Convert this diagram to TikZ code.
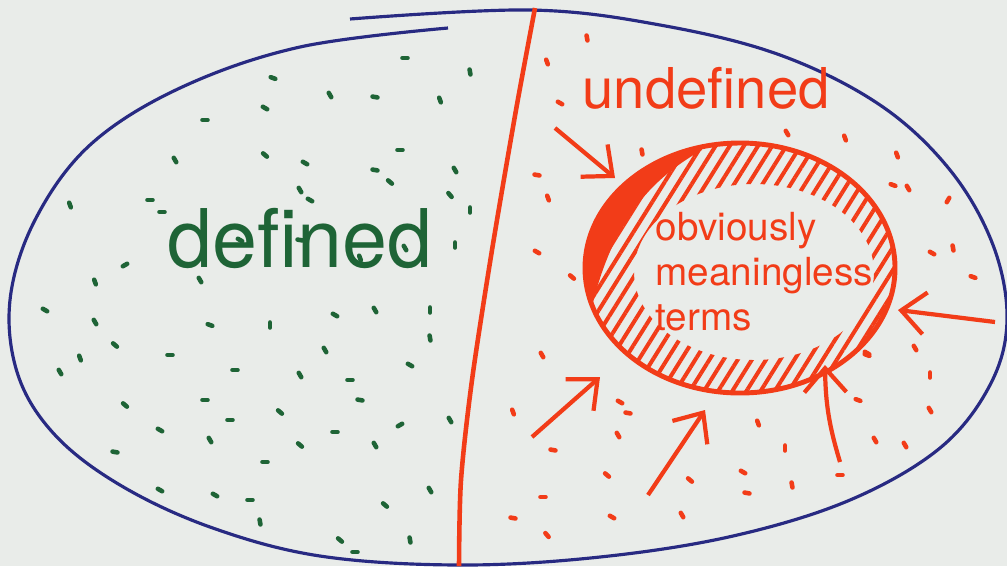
\documentclass[tikz,border=0pt]{standalone}
\usepackage{fontspec}
\setmainfont{TeX Gyre Heros}
\usetikzlibrary{arrows.meta, patterns.meta}

\definecolor{paper}{RGB}{233,236,233}
\definecolor{inkblue}{RGB}{40,42,130}
\definecolor{inkred}{RGB}{242,60,24}
\definecolor{inkgreen}{RGB}{30,100,54}

\begin{document}
\begin{tikzpicture}[
    x=0.01cm, y=-0.01cm,
    outline/.style={draw=inkblue, line width=0.9pt},
    divider/.style={draw=inkred, line width=1.3pt},
    ring/.style={draw=inkred, line width=1.4pt},
    hatch/.style={pattern={Lines[angle=58, distance=1.2mm, line width=0.4mm]}, pattern color=inkred},
    arrow/.style={-{Straight Barb[length=2.4mm, width=4.2mm]}, draw=inkred, line width=1.2pt},
    speck/.style={line width=1.3pt, line cap=round},
    label/.style={inner sep=0pt, align=left},
]
    % paper
    \useasboundingbox (0,0) rectangle (1007,566);
    \fill[paper] (0,0) rectangle (1007,566);
    \clip (0,0) rectangle (1007,566);

    % the big blue outline (open at the top left, as drawn)
    \draw[outline] plot[smooth, tension=0.6] coordinates {
        (448,28) (300,47) (180,88) (90,145) (35,220) (10,300) (18,375)
        (55,435) (120,485) (210,527) (320,556) (460,565) (600,557)
        (733,536) (850,500) (940,448) (990,385) (1007,320) (993,245)
        (950,170) (880,105) (780,55) (660,25) (530,10) (350,19)};

    % dividing line
    \draw[divider] plot[smooth, tension=0.5] coordinates {
        (535,8) (516,110) (492,250) (472,380) (461,480) (459,566)};

    % specks on the defined side
    \foreach \x/\y/\a in {
        405/58/0, 470/72/80, 273/78/20, 330/95/60, 375/97/10, 440/100/70,
        265/108/30, 205/120/0, 175/160/60, 265/155/40, 305/163/30, 400/150/0,
        375/170/10, 390/182/40, 455/170/60, 70/205/70, 150/200/0, 162/212/0,
        470/210/90, 450/195/50, 300/190/60, 310/200/30, 125/265/-30, 95/282/70,
        200/280/60, 405/248/60, 360/258/70, 455/245/90, 240/240/30, 300/240/10,
        45/310/30, 95/322/60, 210/325/20, 270/325/90, 335/315/30, 375/310/60,
        430/310/90, 430/338/80, 170/355/0, 80/358/70, 115/345/40, 60/372/60,
        235/370/0, 325/350/60, 300/375/60, 350/380/0, 410/365/30, 125/405/40,
        205/400/0, 280/412/40, 360/400/10, 160/430/30, 230/420/0, 115/452/10,
        210/440/60, 450/420/60, 300/445/40, 335/432/0, 400/425/-30, 265/462/0,
        375/445/60, 160/490/30, 215/495/30, 250/500/0, 430/490/60, 385/505/40,
        260/522/80, 340/540/40, 410/540/80, 355/552/0}
        \draw[speck, inkgreen] (\x,\y) ++(\a:2.5) -- ++(\a+180:5);

    % specks on the undefined side
    \foreach \x/\y/\a in {
        587/38/80, 547/62/70, 560/103/30, 787/133/60, 845/138/70, 642/152/80,
        897/155/70, 537/175/10, 893/185/20, 908/188/60, 548/198/70, 948/200/-60,
        537/252/30, 572/277/40, 932/253/30, 953/248/80, 973/277/20, 915/348/60,
        930/375/90, 867/355/20, 542/355/60, 513/412/70, 620/402/30, 628/413/10,
        618/435/60, 553/450/10, 607/475/40, 690/480/40, 543/497/0, 513/518/10,
        612/517/30, 682/515/60, 547/535/50, 758/423/70, 785/448/90, 743/472/30,
        747/493/10, 792/485/80, 867/353/30, 858/400/20, 875/440/60, 840/475/0,
        930/410/60, 905/445/60}
        \draw[speck, inkred] (\x,\y) ++(\a:2.5) -- ++(\a+180:5);

    % the shaded ring of obviously meaningless terms
    \path[hatch, even odd rule]
        (740,268) ellipse [x radius=155, y radius=125]
        (754,272) ellipse [x radius=120, y radius=88];
    \begin{scope}
        \clip (740,268) ellipse [x radius=155, y radius=125];
        \fill[inkred] (700,100) -- (560,100) -- (560,420) -- (590,315)
            .. controls (608,235) and (640,185) .. (702,150) -- cycle;
    \end{scope}
    \draw[ring] (740,268) ellipse [x radius=155, y radius=125];

    % labels
    \node[label, text=inkgreen, font=\fontsize{23}{26}\selectfont] (defined) at (300,238) {defined};
    \node[label, text=inkred, font=\fontsize{16}{18}\selectfont] (undefined) at (706,88) {undefined};
    \node[label, text=inkred, font=\fontsize{11}{12.8}\selectfont, anchor=west] (terms) at (655,272)
        {obviously\\meaningless\\terms};

    % arrows pointing at the ring
    \coordinate (a1t) at (555,128);  \coordinate (a1h) at (615,178);
    \coordinate (a2t) at (995,322);  \coordinate (a2h) at (898,310);
    \coordinate (a3t) at (532,437);  \coordinate (a3h) at (600,377);
    \coordinate (a4t) at (648,495);  \coordinate (a4h) at (705,410);
    \coordinate (a5t) at (840,462);  \coordinate (a5h) at (825,365);
    \draw[arrow] (a1t) -- (a1h);
    \draw[arrow] (a2t) -- (a2h);
    \draw[arrow] (a3t) -- (a3h);
    \draw[arrow] (a4t) -- (a4h);
    \draw[arrow] (a5t) to[bend left=8] (a5h);
\end{tikzpicture}
\end{document}
